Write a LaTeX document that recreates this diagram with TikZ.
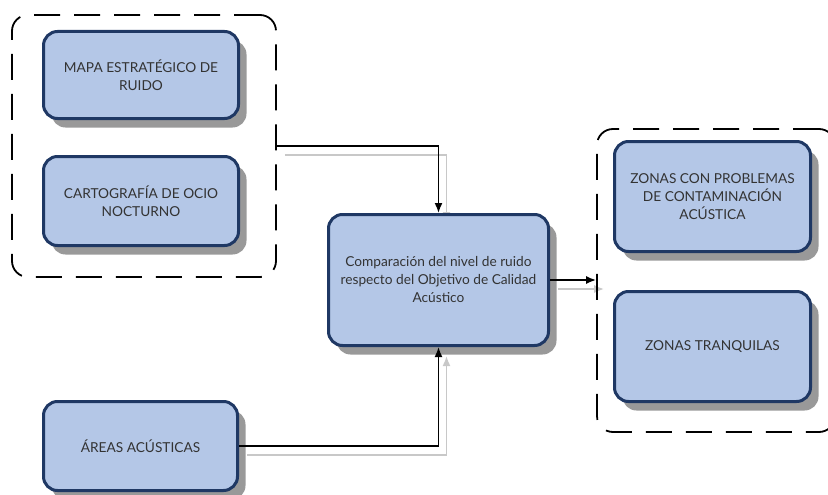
\documentclass[tikz,border=0pt]{standalone}
\usepackage{fontspec}
\setmainfont{Lato}
\usetikzlibrary{arrows.meta}
\usetikzlibrary{shadows}

\definecolor{cajaazul}{HTML}{B4C7E7}
\definecolor{bordeazul}{HTML}{1F3864}
\definecolor{sombra}{HTML}{999999}
\definecolor{sombraflecha}{HTML}{C8C8C8}
\definecolor{texto}{HTML}{333333}

\pgfdeclarelayer{fondo}
\pgfsetlayers{fondo,main}

\begin{document}
\begin{tikzpicture}[x=1pt, y=-1pt,
    caja/.style={draw=bordeazul, line width=3pt, fill=cajaazul, rounded corners=14pt,
        text=texto, align=center, inner sep=0pt, font=\fontsize{13.7}{18}\selectfont,
        drop shadow={shadow xshift=8pt, shadow yshift=-9pt, fill=sombra, opacity=1}},
    grupo/.style={draw, line width=1.8pt, dash pattern=on 26pt off 14pt,
        rounded corners=16pt, inner sep=0pt},
    flecha/.style={line width=1.6pt, -{Latex[length=10pt, width=8pt]}}]

    \useasboundingbox (0,0) rectangle (828,495);

    % grupos discontinuos
    \node[grupo, minimum width=264pt, minimum height=262pt] (entradas) at (144,146) {};
    \node[grupo, minimum width=238pt, minimum height=303pt] (salidas) at (716,280.5) {};

    % cajas
    \node[caja, minimum width=195pt, minimum height=87pt] (mapa) at (141,75)
        {MAPA ESTRATÉGICO DE\\RUIDO};
    \node[caja, minimum width=195pt, minimum height=89pt] (ocio) at (141,201)
        {CARTOGRAFÍA DE OCIO\\NOCTURNO};
    \node[caja, minimum width=194pt, minimum height=89pt] (areas) at (140.5,446)
        {ÁREAS ACÚSTICAS};
    \node[caja, minimum width=220pt, minimum height=131pt] (comp) at (438.5,280)
        {Comparación del nivel de ruido\\respecto del Objetivo de Calidad\\Acústico};
    \node[caja, minimum width=196pt, minimum height=110pt] (problemas) at (712.5,196.5)
        {ZONAS CON PROBLEMAS\\DE CONTAMINACIÓN\\ACÚSTICA};
    \node[caja, minimum width=196pt, minimum height=110pt] (tranquilas) at (712.5,346.5)
        {ZONAS TRANQUILAS};

    % sombras de las flechas
    \begin{pgfonlayer}{fondo}
    \begin{scope}[transform canvas={shift={(8pt,-9pt)}}]
        \draw[flecha, sombraflecha] (entradas.east) -| (comp.north);
        \draw[flecha, sombraflecha] (areas.east) -| (comp.south);
        \draw[flecha, sombraflecha] (comp.east) -- (comp.east -| salidas.west);
    \end{scope}
    \end{pgfonlayer}

    % flechas
    \draw[flecha] (entradas.east) -| (comp.north);
    \draw[flecha] (areas.east) -| (comp.south);
    \draw[flecha] (comp.east) -- (comp.east -| salidas.west);

\end{tikzpicture}
\end{document}
